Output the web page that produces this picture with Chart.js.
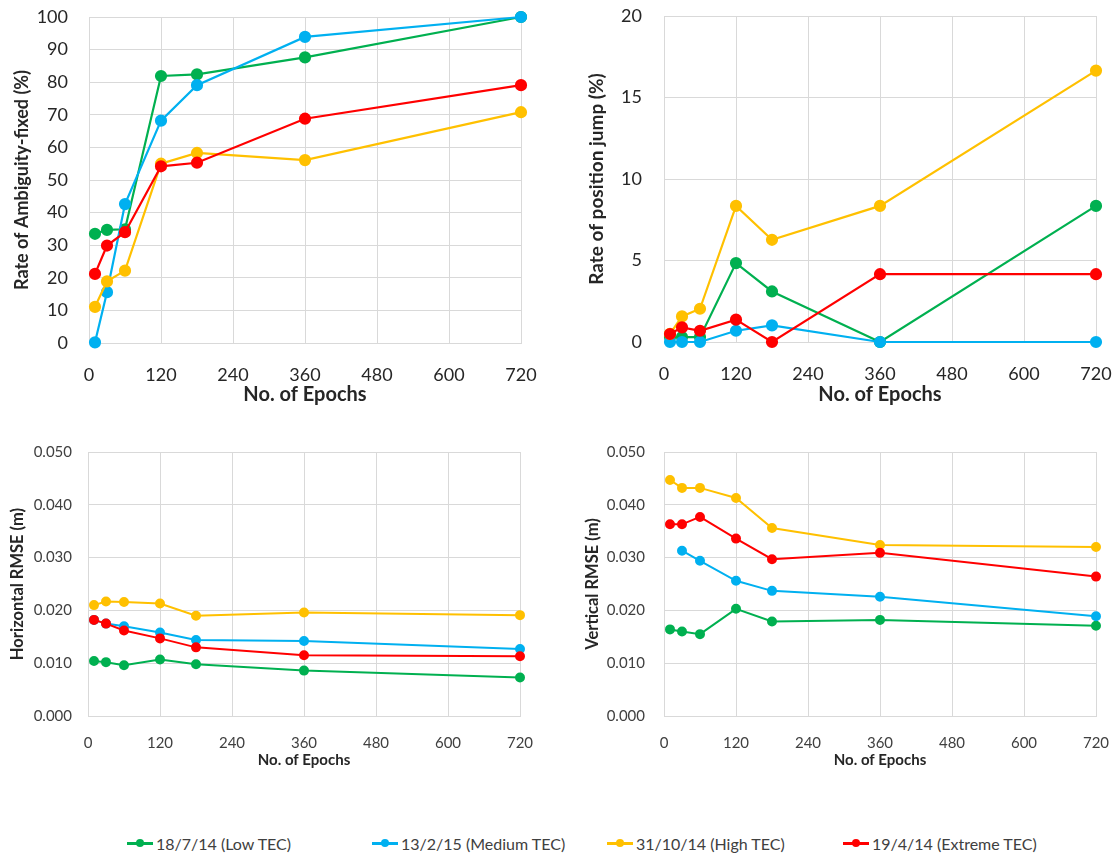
<!DOCTYPE html>
<html>
<head>
<meta charset="utf-8">
<script src="https://cdn.jsdelivr.net/npm/chart.js@4/dist/chart.umd.min.js"></script>
<style>
  html, body { margin: 0; padding: 0; background: #fff; }
  body { width: 1114px; height: 854px; position: relative; overflow: hidden; font-family: Lato, "Open Sans", sans-serif; }
  .box { position: absolute; }
  .legend { position: absolute; top: 831px; left: 0; width: 1114px; height: 24px; font-family: Lato, sans-serif; font-size: 16px; color: #404040; }
  .item { position: absolute; top: 0; display: flex; align-items: center; height: 24px; white-space: nowrap; }
  .mk { position: relative; width: 26px; height: 12px; margin-right: 3px; }
  .mk .ln { position: absolute; left: 0; right: 0; top: 5px; height: 2.5px; }
  .mk .dt { position: absolute; left: 9px; top: 2px; width: 8px; height: 8px; border-radius: 50%; }
</style>
</head>
<body>
<div class="box" style="left:0;top:0;width:557px;height:420px;"><canvas id="c1"></canvas></div>
<div class="box" style="left:557px;top:0;width:557px;height:420px;"><canvas id="c2"></canvas></div>
<div class="box" style="left:0;top:430px;width:557px;height:360px;"><canvas id="c3"></canvas></div>
<div class="box" style="left:557px;top:430px;width:557px;height:360px;"><canvas id="c4"></canvas></div>
<div class="legend" id="legend"></div>
<script>
// ---------- data ----------
const epochs = [10, 30, 60, 120, 180, 360, 720];
const seriesNames = ['18/7/14 (Low TEC)', '13/2/15 (Medium TEC)', '31/10/14 (High TEC)', '19/4/14 (Extreme TEC)'];
const seriesColors = ['#00b050', '#00b0f0', '#ffc000', '#ff0000'];
const xTicks = [0, 120, 240, 360, 480, 600, 720];

// Rate of Ambiguity-fixed (%)
const ambLow     = [33.5, 34.7, 34.9, 81.9, 82.4, 87.6, 100];
const ambMedium  = [0.2, 15.6, 42.6, 68.2, 79.1, 93.9, 100];
const ambHigh    = [11.1, 18.9, 22.2, 55.0, 58.3, 56.1, 70.8];
const ambExtreme = [21.2, 29.9, 34.0, 54.2, 55.3, 68.8, 79.1];

// Rate of position jump (%)
const jumpLow     = [0.3, 0.3, 0.3, 4.84, 3.1, 0, 8.35];
const jumpMedium  = [0, 0, 0, 0.69, 1.02, 0, 0];
const jumpHigh    = [0.5, 1.57, 2.04, 8.35, 6.27, 8.35, 16.65];
const jumpExtreme = [0.49, 0.9, 0.69, 1.37, 0, 4.16, 4.16];

// Horizontal RMSE (m)
const horLow     = [0.0104, 0.0102, 0.0096, 0.0107, 0.0098, 0.0086, 0.0073];
const horMedium  = [0.0182, 0.0175, 0.0170, 0.0158, 0.0144, 0.0142, 0.0127];
const horHigh    = [0.0210, 0.0217, 0.0216, 0.0213, 0.0190, 0.0196, 0.0191];
const horExtreme = [0.0182, 0.0175, 0.0162, 0.0147, 0.0130, 0.0115, 0.0113];

// Vertical RMSE (m)
const verLow     = [0.0164, 0.0160, 0.0155, 0.0203, 0.0179, 0.0182, 0.0171];
const verMedium  = [null, 0.0313, 0.0294, 0.0256, 0.0237, 0.0226, 0.0189];
const verHigh    = [0.0447, 0.0432, 0.0432, 0.0413, 0.0356, 0.0324, 0.0320];
const verExtreme = [0.0363, 0.0363, 0.0377, 0.0336, 0.0297, 0.0309, 0.0264];

// ---------- helpers ----------
const FONT = 'Lato, "Open Sans", sans-serif';
const GRID = '#d9d9d9';

function makeDatasets(seriesList, radius) {
  return seriesList.map((vals, i) => ({
    label: seriesNames[i],
    data: epochs.map((e, j) => ({ x: e, y: vals[j] })),
    borderColor: seriesColors[i],
    backgroundColor: seriesColors[i],
    pointBackgroundColor: seriesColors[i],
    pointBorderColor: seriesColors[i],
    borderWidth: radius > 4 ? 2.2 : 2,
    pointRadius: radius,
    pointHoverRadius: radius,
    tension: 0,
    clip: false,
    order: 3 - i
  }));
}

function zeroPad(s) { s.paddingTop = 0; s.paddingBottom = 0; s.paddingLeft = 0; s.paddingRight = 0; }

function makeChart(id, cfg) {
  return new Chart(document.getElementById(id), {
    type: 'line',
    data: { datasets: makeDatasets(cfg.series, cfg.radius) },
    options: {
      responsive: true,
      maintainAspectRatio: false,
      animation: false,
      events: [],
      layout: { padding: cfg.padding },
      plugins: { legend: { display: false }, tooltip: { enabled: false } },
      scales: {
        x: {
          type: 'linear',
          min: 0, max: 720,
          afterBuildTicks: (s) => { s.ticks = xTicks.map(v => ({ value: v })); },
          afterFit: (s) => { s.height = cfg.xHeight; zeroPad(s); },
          grid: { color: GRID, drawTicks: false },
          border: { color: GRID },
          ticks: { font: { family: FONT, size: cfg.tickSize }, color: cfg.tickColor, padding: cfg.xTickPad, maxRotation: 0, autoSkip: false },
          title: { display: true, text: 'No. of Epochs', font: { family: FONT, size: cfg.xTitleSize, weight: 'bold' }, color: '#262626', padding: 0 }
        },
        y: {
          min: cfg.yMin, max: cfg.yMax,
          ticks: { stepSize: cfg.yStep, font: { family: FONT, size: cfg.tickSize }, color: cfg.tickColor, padding: cfg.yTickPad,
                   callback: cfg.yFmt },
          afterFit: (s) => { s.width = cfg.yWidth; zeroPad(s); },
          grid: { color: GRID, drawTicks: false },
          border: { color: GRID },
          title: { display: true, text: cfg.yTitle, font: { family: FONT, size: cfg.yTitleSize, weight: 'bold' }, color: '#262626', padding: 0 }
        }
      }
    }
  });
}

makeChart('c1', {
  series: [ambLow, ambMedium, ambHigh, ambExtreme], radius: 5,
  padding: { left: 11, right: 36, top: 17, bottom: 13 },
  yWidth: 78, xHeight: 64, tickSize: 18, xTitleSize: 20, yTitleSize: 18, tickColor: '#262626',
  xTickPad: 21, yTickPad: 21, yMin: 0, yMax: 100, yStep: 10,
  yFmt: (v) => v, yTitle: 'Rate of Ambiguity-fixed (%)'
});
makeChart('c2', {
  series: [jumpLow, jumpMedium, jumpHigh, jumpExtreme], radius: 5,
  padding: { left: 28, right: 18, top: 16, bottom: 13 },
  yWidth: 79, xHeight: 65, tickSize: 18, xTitleSize: 20, yTitleSize: 19, tickColor: '#262626',
  xTickPad: 21, yTickPad: 22, yMin: 0, yMax: 20, yStep: 5,
  yFmt: (v) => v, yTitle: 'Rate of position jump (%)'
});
makeChart('c3', {
  series: [horLow, horMedium, horHigh, horExtreme], radius: 4,
  padding: { left: 8, right: 37, top: 22, bottom: 21 },
  yWidth: 80, xHeight: 53, tickSize: 15, xTitleSize: 15, yTitleSize: 16.5, tickColor: '#404040',
  xTickPad: 18, yTickPad: 16, yMin: 0, yMax: 0.05, yStep: 0.01,
  yFmt: (v) => v.toFixed(3), yTitle: 'Horizontal RMSE (m)'
});
makeChart('c4', {
  series: [verLow, verMedium, verHigh, verExtreme], radius: 4,
  padding: { left: 26, right: 18, top: 22, bottom: 21 },
  yWidth: 81, xHeight: 53, tickSize: 15, xTitleSize: 15, yTitleSize: 16.5, tickColor: '#404040',
  xTickPad: 18, yTickPad: 19, yMin: 0, yMax: 0.05, yStep: 0.01,
  yFmt: (v) => v.toFixed(3), yTitle: 'Vertical RMSE (m)'
});

// ---------- legend ----------
const legendLeft = [127, 372, 607, 843];
const legend = document.getElementById('legend');
seriesNames.forEach((name, i) => {
  const it = document.createElement('div');
  it.className = 'item';
  it.style.left = legendLeft[i] + 'px';
  it.innerHTML = '<span class="mk"><span class="ln" style="background:' + seriesColors[i] + '"></span><span class="dt" style="background:' + seriesColors[i] + '"></span></span>';
  const t = document.createElement('span');
  t.textContent = name;
  it.appendChild(t);
  legend.appendChild(it);
});
</script>
</body>
</html>
